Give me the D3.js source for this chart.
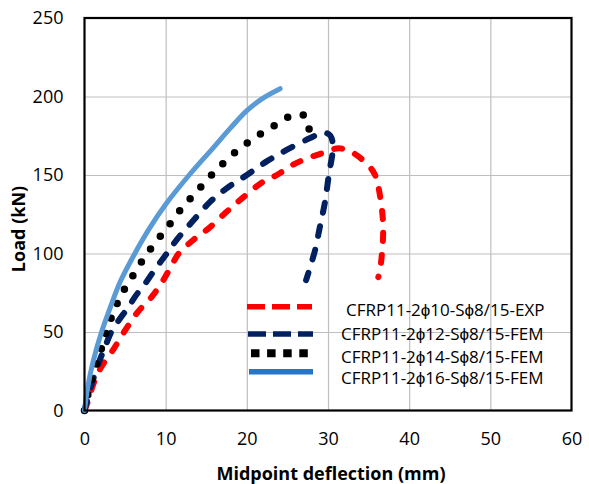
<!DOCTYPE html>
<html><head><meta charset="utf-8">
<script src="https://cdn.jsdelivr.net/npm/d3@7"></script>
<style>
html,body{margin:0;padding:0;background:#fff;}
svg{display:block;}
</style></head>
<body>
<svg id="chart" width="589" height="484"></svg>
<script>
// ---- data ----
const xTicks = [0, 10, 20, 30, 40, 50, 60];
const yTicks = [0, 50, 100, 150, 200, 250];
const seriesNames = [
  "CFRP11-2\u03d510-S\u03d58/15-EXP",
  "CFRP11-2\u03d512-S\u03d58/15-FEM",
  "CFRP11-2\u03d514-S\u03d58/15-FEM",
  "CFRP11-2\u03d516-S\u03d58/15-FEM"
];
const exp10 = [[0,0],[0.5,7],[1.1,17],[2.1,28],[3.5,38.5],[5,51],[6.6,63],[8.3,72.5],[9.7,83],[10.7,92],[11.6,100],[13.4,108.6],[15.3,116],[17.3,125.6],[18.7,132],[20.4,139.4],[22,145.7],[23.7,150],[25.5,156],[27.4,160.6],[29.4,164],[31.3,167],[33.1,164],[35,156],[35.8,150],[36.3,140],[36.8,117],[36.4,89],[36.2,85]];
const fem12 = [[0,0],[0.6,12],[1.2,22],[1.8,31],[2.5,40],[3.3,50],[4.3,58],[5.3,65],[6.3,73],[7.5,81],[8.7,90],[10,99],[11.4,109],[13.4,121],[15.5,133],[17.5,141.5],[20,150],[22.4,158.5],[24.9,166],[27.8,173.5],[29.5,177],[30.3,175],[30.6,168],[30.1,150],[29.6,132],[29,117],[28.4,102],[27.3,83]];
const fem14 = [[0,0],[0.5,12],[1.2,25],[2,38],[2.7,50],[3.3,59],[4.1,69],[5,78],[6.1,87],[7.2,96],[8.3,104],[9.5,112],[10.7,120],[12,129],[13.3,136.5],[14.6,144],[16,152],[17.4,159],[18.9,166],[20.5,172],[22.1,177.5],[23.9,183],[25.6,188],[27.2,187.6],[27.7,177.6]];
const fem16 = [[0,0],[0.4,15],[1.1,32],[2.1,50],[3.2,66],[4.4,82],[6.2,100],[8,116],[10.1,132],[12.9,150],[15.8,167],[18,180],[20,191],[22,199],[24.1,205]];

// ---- layout ----
const svg = d3.select("#chart");
const L = 84.5, R = 571.5, T = 18, B = 410.5;
const x = d3.scaleLinear().domain([0, 60]).range([L, R]);
const y = d3.scaleLinear().domain([0, 250]).range([B, T]);
const font = "'Open Sans', 'Liberation Sans', sans-serif";

// gridlines
svg.append("g").attr("transform", `translate(0,${B})`)
  .call(d3.axisBottom(x).tickValues(xTicks.slice(1, -1)).tickSize(-(B - T)).tickFormat(""))
  .call(g => g.select(".domain").remove())
  .call(g => g.selectAll("line").attr("stroke", "#bfbfbf").attr("stroke-width", 1.2));
svg.append("g").attr("transform", `translate(${L},0)`)
  .call(d3.axisLeft(y).tickValues(yTicks.slice(1, -1)).tickSize(-(R - L)).tickFormat(""))
  .call(g => g.select(".domain").remove())
  .call(g => g.selectAll("line").attr("stroke", "#bfbfbf").attr("stroke-width", 1.2));

// tick labels
svg.append("g").attr("transform", `translate(0,${B})`)
  .call(d3.axisBottom(x).tickValues(xTicks).tickSize(0).tickPadding(22).tickFormat(d3.format("d")))
  .call(g => g.select(".domain").remove())
  .call(g => g.selectAll("text").attr("font-family", font).attr("font-size", 18).attr("fill", "#000"));
svg.append("g").attr("transform", `translate(${L},0)`)
  .call(d3.axisLeft(y).tickValues(yTicks).tickSize(0).tickPadding(21).tickFormat(d3.format("d")))
  .call(g => g.select(".domain").remove())
  .call(g => g.selectAll("text").attr("font-family", font).attr("font-size", 18).attr("fill", "#000"));

// series lines
const line = d3.line().x(d => x(d[0])).y(d => y(d[1])).curve(d3.curveCatmullRom.alpha(0.5));
const styles = [
  {data: exp10, color: "#ff0000", w: 6, dash: "8 14", cap: "round"},
  {data: fem12, color: "#002060", w: 6, dash: "10 14", cap: "round"},
  {data: fem14, color: "#000000", w: 7.5, dash: "0 16", cap: "round"},
  {data: fem16, color: "#5b9bd5", w: 5, dash: null, cap: "round"}
];
const plot = svg.append("g");
styles.forEach(s => {
  plot.append("path").datum(s.data)
    .attr("d", line).attr("fill", "none")
    .attr("stroke", s.color).attr("stroke-width", s.w)
    .attr("stroke-linecap", s.cap).attr("stroke-linejoin", "round")
    .attr("stroke-dasharray", s.dash);
});

// frame
svg.append("rect").attr("x", L).attr("y", T).attr("width", R - L).attr("height", B - T)
  .attr("fill", "none").attr("stroke", "#000").attr("stroke-width", 2.2);

// axis titles
svg.append("text").attr("x", 331).attr("y", 480).attr("text-anchor", "middle")
  .attr("font-family", font).attr("font-weight", "bold").attr("font-size", 18).text("Midpoint deflection (mm)");
svg.append("text").attr("transform", "translate(25,229) rotate(-90)").attr("text-anchor", "middle")
  .attr("font-family", font).attr("font-weight", "bold").attr("font-size", 18).text("Load (kN)");

// legend
const legendRows = [
  {sy: 306.7, ty: 316, tx: 346, color: "#ff0000", w: 5.5, dash: "18 7", x0: 247, x1: 312},
  {sy: 334, ty: 340, tx: 341, color: "#002060", w: 5.5, dash: "18 7", x0: 248, x1: 313},
  {sy: 353.3, ty: 362.7, tx: 341, color: "#000000", w: 8, dash: "8.5 7.6", x0: 251, x1: 308},
  {sy: 371.7, ty: 384.3, tx: 341, color: "#2a74c4", w: 5.5, dash: null, x0: 249, x1: 313}
];
const lg = svg.append("g");
legendRows.forEach((r, i) => {
  lg.append("line").attr("x1", r.x0).attr("x2", r.x1).attr("y1", r.sy).attr("y2", r.sy)
    .attr("stroke", r.color).attr("stroke-width", r.w).attr("stroke-dasharray", r.dash);
  lg.append("text").attr("x", r.tx).attr("y", r.ty)
    .attr("font-family", font).attr("font-size", 17).attr("fill", "#000").text(seriesNames[i]);
});
</script>
</body></html>
